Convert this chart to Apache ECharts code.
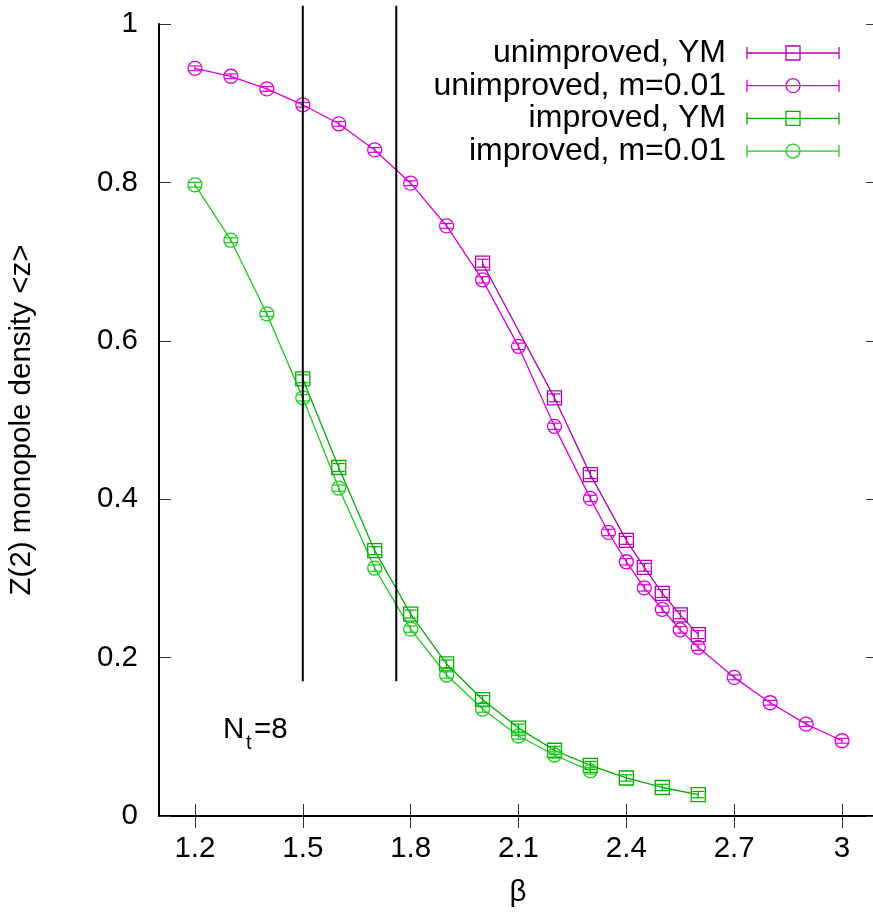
<!DOCTYPE html>
<html><head><meta charset="utf-8">
<script src="https://cdn.jsdelivr.net/npm/echarts@6/dist/echarts.min.js"></script>
<style>html,body{margin:0;padding:0;background:#fff}#c{width:873px;height:915px}</style>
</head><body><div id="c"></div>
<script>
// ---- data ----
const betaUnimpYM = [2.0, 2.2, 2.3, 2.4, 2.45, 2.5, 2.55, 2.6];
const zUnimpYM    = [0.698, 0.528, 0.431, 0.348, 0.314, 0.281, 0.254, 0.229];
const errUnimpYM  = [0.005, 0.005, 0.005, 0.005, 0.005, 0.005, 0.005, 0.005];

const betaUnimpM = [1.2, 1.3, 1.4, 1.5, 1.6, 1.7, 1.8, 1.9, 2.0, 2.1, 2.2, 2.3, 2.35, 2.4, 2.45, 2.5, 2.55, 2.6, 2.7, 2.8, 2.9, 3.0];
const zUnimpM    = [0.944, 0.934, 0.918, 0.898, 0.874, 0.841, 0.799, 0.745, 0.677, 0.593, 0.492, 0.401, 0.358, 0.321, 0.288, 0.261, 0.235, 0.213, 0.175, 0.143, 0.116, 0.095];
const errUnimpM  = [0.003, 0.003, 0.003, 0.003, 0.003, 0.003, 0.003, 0.003, 0.004, 0.004, 0.004, 0.004, 0.004, 0.004, 0.004, 0.004, 0.004, 0.004, 0.003, 0.003, 0.003, 0.003];

const betaImpYM = [1.5, 1.6, 1.7, 1.8, 1.9, 2.0, 2.1, 2.2, 2.3, 2.4, 2.5, 2.6];
const zImpYM    = [0.552, 0.440, 0.335, 0.255, 0.192, 0.147, 0.111, 0.083, 0.064, 0.048, 0.036, 0.027];
const errImpYM  = [0.005, 0.005, 0.005, 0.005, 0.005, 0.005, 0.005, 0.005, 0.005, 0.004, 0.004, 0.004];

const betaImpM = [1.2, 1.3, 1.4, 1.5, 1.6, 1.7, 1.8, 1.9, 2.0, 2.1, 2.2, 2.3];
const zImpM    = [0.797, 0.727, 0.634, 0.528, 0.414, 0.313, 0.236, 0.178, 0.135, 0.101, 0.077, 0.057];
const errImpM  = [0.003, 0.003, 0.003, 0.004, 0.004, 0.004, 0.004, 0.004, 0.004, 0.004, 0.004, 0.004];

const seriesNames = ['unimproved, YM', 'unimproved, m=0.01', 'improved, YM', 'improved, m=0.01'];
const xTicks = [1.2, 1.5, 1.8, 2.1, 2.4, 2.7, 3.0];
const yTicks = [0, 0.2, 0.4, 0.6, 0.8, 1];
const vLineBetas = [1.5, 1.76];
const vLineRange = [0.17, 1.023];
const annotation = { main: 'N', sub: 't', rest: '=8' };

// ---- styling ----
const FONT = 'Liberation Sans, Arial, sans-serif';
const FS = 29.5;
const LFS = 32;
const colors = ['#b300b3', '#dd00dd', '#00b000', '#1ecc1e'];
const symbols = ['rect', 'circle', 'rect', 'circle'];

const sets = [
  [betaUnimpYM, zUnimpYM, errUnimpYM],
  [betaUnimpM, zUnimpM, errUnimpM],
  [betaImpYM, zImpYM, errImpYM],
  [betaImpM, zImpM, errImpM]
];

const series = [];
sets.forEach((s, i) => {
  const [bx, by, be] = s;
  series.push({
    type: 'line', name: seriesNames[i],
    data: bx.map((b, k) => [b, by[k]]),
    symbol: symbols[i], symbolSize: 14,
    lineStyle: { color: colors[i], width: 1.3 },
    itemStyle: { color: 'rgba(0,0,0,0)', borderColor: colors[i], borderWidth: 1.3 },
    z: 3, animation: false
  });
  series.push({
    type: 'custom', name: seriesNames[i] + ' err',
    data: bx.map((b, k) => [b, by[k], be[k]]),
    renderItem: function (params, api) {
      const x = api.value(0), y = api.value(1), e = api.value(2);
      const hi = api.coord([x, y + e]);
      const lo = api.coord([x, y - e]);
      const w = 6;
      const st = { stroke: colors[i], lineWidth: 1.2 };
      return { type: 'group', children: [
        { type: 'line', shape: { x1: hi[0], y1: hi[1], x2: lo[0], y2: lo[1] }, style: st },
        { type: 'line', shape: { x1: hi[0] - w, y1: hi[1], x2: hi[0] + w, y2: hi[1] }, style: st },
        { type: 'line', shape: { x1: lo[0] - w, y1: lo[1], x2: lo[0] + w, y2: lo[1] }, style: st }
      ]};
    },
    z: 4, animation: false
  });
});

vLineBetas.forEach(b => {
  series.push({
    type: 'line', data: [[b, vLineRange[0]], [b, vLineRange[1]]],
    symbol: 'none', clip: false,
    lineStyle: { color: '#000', width: 2 }, z: 5, animation: false
  });
});

// legend drawn as graphics
const legX = 726, legL = 747, legR = 839, legM = 793;
const legY0 = 53, legDY = 32.7;
const graphics = [];
seriesNames.forEach((n, i) => {
  const y = legY0 + i * legDY;
  const st = { stroke: colors[i], lineWidth: 1.3 };
  graphics.push({ type: 'text', x: legX, y: y, style: { text: n, font: LFS + 'px ' + FONT, fill: '#000', align: 'right', verticalAlign: 'middle' } });
  graphics.push({ type: 'line', shape: { x1: legL, y1: y, x2: legR, y2: y }, style: st });
  graphics.push({ type: 'line', shape: { x1: legL, y1: y - 6, x2: legL, y2: y + 6 }, style: st });
  graphics.push({ type: 'line', shape: { x1: legR, y1: y - 6, x2: legR, y2: y + 6 }, style: st });
  if (symbols[i] === 'rect') {
    graphics.push({ type: 'rect', shape: { x: legM - 7, y: y - 7, width: 14, height: 14 }, style: { fill: 'none', stroke: colors[i], lineWidth: 1.3 } });
  } else {
    graphics.push({ type: 'circle', shape: { cx: legM, cy: y, r: 7 }, style: { fill: 'none', stroke: colors[i], lineWidth: 1.3 } });
  }
});
// axis titles and annotation
graphics.push({ type: 'text', x: 22, y: 420, rotation: Math.PI / 2, style: { text: 'Z(2) monopole density <z>', font: FS + 'px ' + FONT, fill: '#000', align: 'center', verticalAlign: 'middle' } });
graphics.push({ type: 'text', x: 518, y: 893, style: { text: 'β', font: FS + 'px ' + FONT, fill: '#000', align: 'center', verticalAlign: 'middle' } });
graphics.push({ type: 'text', x: 223, y: 730, style: { text: annotation.main, font: FS + 'px ' + FONT, fill: '#000', align: 'left', verticalAlign: 'middle' } });
graphics.push({ type: 'text', x: 246, y: 743, style: { text: annotation.sub, font: '20px ' + FONT, fill: '#000', align: 'left', verticalAlign: 'middle' } });
graphics.push({ type: 'text', x: 254, y: 730, style: { text: annotation.rest, font: FS + 'px ' + FONT, fill: '#000', align: 'left', verticalAlign: 'middle' } });

const axisLineStyle = { show: true, lineStyle: { color: '#000', width: 2 } };
const tickStyle = { show: true, inside: true, length: 12, lineStyle: { color: '#333', width: 1 } };

const option = {
  animation: false,
  backgroundColor: '#fff',
  grid: { left: 159, top: 24, right: -5, bottom: 99, outerBoundsMode: 'none', containLabel: false },
  xAxis: [
    { type: 'value', min: 1.1, max: 3.1, position: 'bottom',
      axisLine: axisLineStyle,
      axisTick: Object.assign({}, tickStyle, { customValues: xTicks }),
      axisLabel: { customValues: xTicks, margin: 18, color: '#000', fontSize: FS, fontFamily: FONT, formatter: v => String(+v.toFixed(2)) },
      splitLine: { show: false } },
    { type: 'value', min: 1.1, max: 3.1, position: 'top',
      axisLine: axisLineStyle,
      axisTick: Object.assign({}, tickStyle, { customValues: xTicks }),
      axisLabel: { show: false }, splitLine: { show: false } }
  ],
  yAxis: [
    { type: 'value', min: 0, max: 1, interval: 0.2, position: 'left',
      axisLine: axisLineStyle, axisTick: tickStyle,
      axisLabel: { margin: 21, color: '#000', fontSize: FS, fontFamily: FONT, formatter: v => String(+v.toFixed(2)) },
      splitLine: { show: false } },
    { type: 'value', min: 0, max: 1, interval: 0.2, position: 'right',
      axisLine: axisLineStyle, axisTick: tickStyle,
      axisLabel: { show: false }, splitLine: { show: false } }
  ],
  series: series,
  graphic: graphics
};
const chart = echarts.init(document.getElementById('c'), null, { renderer: 'canvas' });
chart.setOption(option);
</script>
</body></html>
